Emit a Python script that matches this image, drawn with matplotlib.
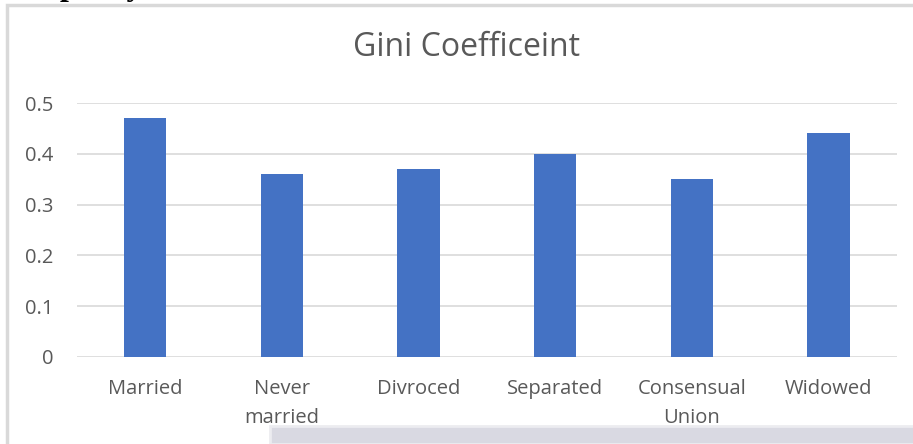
import matplotlib
matplotlib.use('Agg')
import matplotlib.pyplot as plt
from matplotlib.patches import Rectangle

categories = ['Married', 'Never\nmarried', 'Divroced', 'Separated', 'Consensual\nUnion', 'Widowed']
values = [0.47, 0.36, 0.37, 0.40, 0.35, 0.44]
yticks = [0, 0.1, 0.2, 0.3, 0.4, 0.5]
ytick_labels = ['0', '0.1', '0.2', '0.3', '0.4', '0.5']

plt.rcParams['font.family'] = ['Open Sans', 'DejaVu Sans']

fig = plt.figure(figsize=(9.13, 4.44), dpi=100)
ax = fig.add_axes([0.0843, 0.196, 0.898, 0.572])

# chart frame
fig.patches.append(Rectangle((7 / 913, -0.1), 1.0, 1 - 5 / 444 + 0.1, transform=fig.transFigure,
                             fill=False, edgecolor='#d9d9d9', linewidth=2.5))
# cropped heading of the page above (only the descenders show)
fig.text(60 / 913, 1 + 5 / 444, 'pacity', fontfamily='Liberation Serif', fontweight='bold',
         fontsize=23, va='baseline', ha='left', color='black')
# grey strip at bottom (overlapping image)
fig.patches.append(Rectangle((270 / 913, 0), 1.0, 18 / 444, transform=fig.transFigure,
                             facecolor='#d9d9e2', edgecolor='#ececf0', linewidth=2, zorder=5))

x = range(len(categories))
ax.bar(x, values, width=0.31, color='#4472C4', zorder=3)
ax.set_xlim(-0.5, len(categories) - 0.5)
ax.set_ylim(0, 0.5)
ax.set_yticks(yticks)
ax.set_yticklabels(ytick_labels)
ax.set_xticks(list(x))
ax.set_xticklabels(categories, linespacing=1.6)
ax.yaxis.grid(True, color='#d9d9d9', linewidth=1.2, zorder=0)
ax.tick_params(length=0, labelsize=14.5, colors='#595959')
ax.tick_params(axis='x', pad=16)
ax.tick_params(axis='y', pad=17)
for s in ax.spines.values():
    s.set_visible(False)
fig.text(466 / 913, 1 - 48 / 444, 'Gini Coefficeint', fontsize=23, color='#595959',
         ha='center', va='center')

fig.savefig('out.png', dpi=100)
